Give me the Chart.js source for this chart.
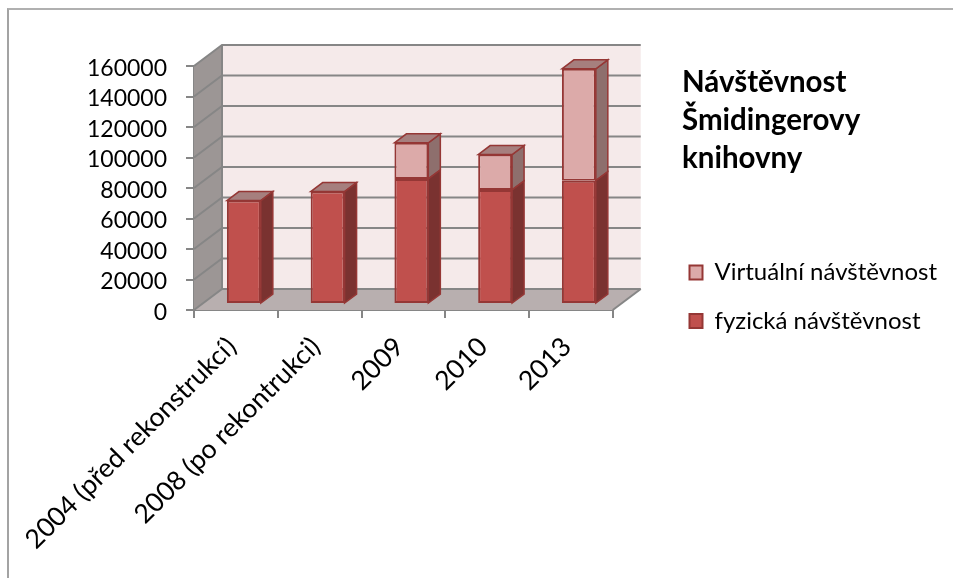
<!DOCTYPE html>
<html lang="cs">
<head>
    <meta charset="UTF-8">
    <title>Návštěvnost Šmidingerovy knihovny</title>
    <style>
        body { margin: 0; background: #fff; }
        #frame {
            position: absolute;
            left: 7px;
            top: 8px;
            right: 0;
            bottom: 0;
            border-left: 2px solid #a3a3a3;
            border-top: 2px solid #b0b0b0;
        }
        #wrap { position: absolute; left: 0; top: 0; width: 953px; height: 578px; }
    </style>
</head>
<body>
    <div id="frame"></div>
    <div id="wrap"><canvas id="chart" width="953" height="578"></canvas></div>

    <script src="https://cdn.jsdelivr.net/npm/chart.js"></script>
    <script>
        const categories = ['2004 (před rekonstrukcí)', '2008 (po rekontrukci)', '2009', '2010', '2013'];
        const fyzicka = [67800, 73700, 82000, 74800, 80900];
        const virtualni = [0, 0, 23700, 23200, 73300];
        const titleLines = ['Návštěvnost', 'Šmidingerovy', 'knihovny'];
        const seriesNames = ['fyzická návštěvnost', 'Virtuální návštěvnost'];

        // fake 3D: wall depth and bar depth in px
        const wallDx = 28, wallDy = -21;
        const barDx = 8, barDy = -6;
        const sideDx = 12, sideDy = -9;
        const edge = '#953735';
        const grid = '#868686';

        function poly(ctx, pts, fill, stroke, lw) {
            ctx.beginPath();
            pts.forEach((p, i) => i ? ctx.lineTo(p[0], p[1]) : ctx.moveTo(p[0], p[1]));
            ctx.closePath();
            ctx.fillStyle = fill;
            ctx.fill();
            if (stroke) {
                ctx.strokeStyle = stroke;
                ctx.lineWidth = lw;
                ctx.stroke();
            }
        }

        const box3d = {
            id: 'box3d',
            afterLayout(chart) {
                // title and legend sit in the right column, not where the layout put them
                const t = chart.titleBlock;
                t.left = 682; t.right = 945; t.top = 63; t.bottom = 177;
                const l = chart.legend;
                const h = l.bottom - l.top;
                l.left = 665; l.top = 236; l.right = 953; l.bottom = l.top + h;
                l.width = l.right - l.left;
                l.adjustHitBoxes();
            },
            beforeDatasetsDraw(chart) {
                const { ctx, chartArea: a, scales: { y } } = chart;
                const zero = y.getPixelForValue(0), top = y.getPixelForValue(160000);
                ctx.save();
                poly(ctx, [[a.left + wallDx, top + wallDy], [a.right + wallDx, top + wallDy],
                    [a.right + wallDx, zero + wallDy], [a.left + wallDx, zero + wallDy]], '#f5eaea');
                poly(ctx, [[a.left, top], [a.left + wallDx, top + wallDy],
                    [a.left + wallDx, zero + wallDy], [a.left, zero]], '#9c9695');
                poly(ctx, [[a.left, zero], [a.left + wallDx, zero + wallDy],
                    [a.right + wallDx, zero + wallDy], [a.right, zero]], '#b8afaf');
                ctx.strokeStyle = grid;
                ctx.lineWidth = 2;
                y.ticks.forEach(t => {
                    const py = y.getPixelForValue(t.value);
                    ctx.beginPath();
                    ctx.moveTo(a.left, py);
                    ctx.lineTo(a.left + wallDx, py + wallDy);
                    ctx.lineTo(a.right + wallDx, py + wallDy);
                    ctx.stroke();
                });
                ctx.beginPath();
                ctx.moveTo(a.left + wallDx, top + wallDy);
                ctx.lineTo(a.left + wallDx, zero + wallDy);
                ctx.stroke();
                ctx.beginPath();
                ctx.moveTo(a.right, zero);
                ctx.lineTo(a.right + wallDx, zero + wallDy);
                ctx.stroke();
                ctx.restore();
            },
            beforeDatasetDraw(chart, args) {
                const ctx = chart.ctx;
                ctx.save();
                ctx.translate(barDx, barDy);
                const ds = chart.data.datasets[args.index];
                args.meta.data.forEach(bar => {
                    const p = bar.getProps(['x', 'y', 'base', 'width']);
                    const l = p.x - p.width / 2, r = p.x + p.width / 2;
                    if (p.base - p.y > 0.5) {
                        poly(ctx, [[r, p.y], [r + sideDx, p.y + sideDy], [r + sideDx, p.base + sideDy], [r, p.base]],
                            ds.sideColor, edge, 1.5);
                    }
                    if (args.index === 1) {
                        poly(ctx, [[l, p.y], [l + sideDx, p.y + sideDy], [r + sideDx, p.y + sideDy], [r, p.y]],
                            '#a67f7e', edge, 1.5);
                    }
                });
            },
            afterDatasetDraw(chart) {
                chart.ctx.restore();
            }
        };

        new Chart(document.getElementById('chart'), {
            type: 'bar',
            data: {
                labels: categories,
                datasets: [
                    { label: seriesNames[0], data: fyzicka, backgroundColor: '#c0504d', sideColor: '#7a3230',
                      borderColor: edge, borderWidth: 2, borderSkipped: false, clip: false },
                    { label: seriesNames[1], data: virtualni, backgroundColor: '#dcaaa9', sideColor: '#8e6f6d',
                      borderColor: edge, borderWidth: 2, borderSkipped: false, clip: false }
                ]
            },
            options: {
                responsive: false,
                animation: false,
                // negative top padding makes room for the title block, which is moved away in afterLayout
                layout: { padding: { left: 0, top: -48, right: 136, bottom: 8 } },
                datasets: { bar: { categoryPercentage: 1, barPercentage: 0.405 } },
                scales: {
                    x: {
                        stacked: true,
                        afterFit(s) { s.height = 260; s.paddingLeft = 0; s.paddingRight = 0; },
                        grid: { drawOnChartArea: false, offset: true, color: grid, lineWidth: 2, tickLength: 8 },
                        border: { color: grid, width: 2 },
                        ticks: { color: '#000', font: { family: 'Lato', size: 26.5 }, minRotation: 45, maxRotation: 45, padding: 13, labelOffset: -4, autoSkip: false }
                    },
                    y: {
                        stacked: true,
                        min: 0,
                        max: 160000,
                        afterFit(s) { s.width = 194; },
                        grid: { drawOnChartArea: false, color: grid, lineWidth: 2, tickLength: 8 },
                        border: { color: grid, width: 2 },
                        ticks: { stepSize: 20000, autoSkip: false, color: '#000', font: { family: 'Lato', size: 23 }, padding: 19, labelOffset: 2.5, callback: v => String(v) }
                    }
                },
                plugins: {
                    tooltip: { enabled: false },
                    title: {
                        display: true,
                        text: titleLines,
                        align: 'start',
                        color: '#000',
                        font: { family: 'Lato', size: 29.5, weight: 'bold', lineHeight: 38 / 29.5 },
                        padding: 0
                    },
                    legend: {
                        position: 'right',
                        align: 'start',
                        reverse: true,
                        labels: {
                            color: '#000',
                            font: { family: 'Lato', size: 24 },
                            boxWidth: 13,
                            boxHeight: 14,
                            padding: 24.5
                        }
                    }
                }
            },
            plugins: [box3d]
        });
    </script>
</body>
</html>
